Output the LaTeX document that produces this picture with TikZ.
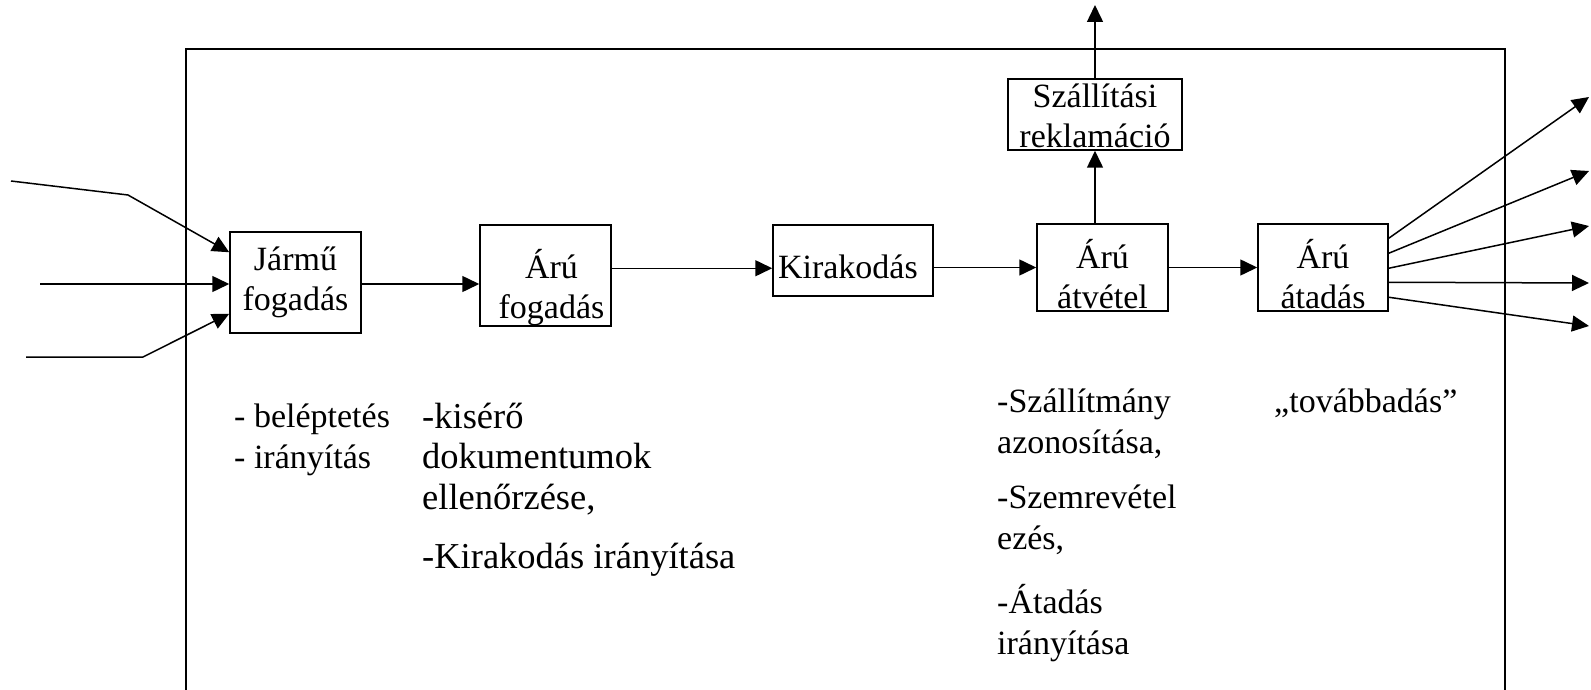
\documentclass[tikz,border=0pt]{standalone}
\usepackage{fontspec}
\setmainfont{Liberation Serif}
\usetikzlibrary{arrows.meta,calc}
\begin{document}
\begin{tikzpicture}[x=1pt,y=-1pt,
  proc/.style={draw, line width=1.5pt, inner sep=0pt, align=center,
    font=\fontsize{34}{40}\selectfont},
  arr/.style={line width=1.5pt, -{Triangle[length=17pt,width=16pt]}},
  link/.style={line width=1.5pt},
  note/.style={anchor=base west, inner sep=0pt, align=left,
    font=\fontsize{34}{41}\selectfont},
  bignote/.style={note, font=\fontsize{36.5}{40.5}\selectfont}]
\useasboundingbox (0,0) rectangle (1591,690);

% system boundary, open at the bottom
\draw[link] (186,690) -- (186,49) -- (1505,49) -- (1505,690);

% process steps (base anchor = first text line)
\node[proc, text width=131pt, text height=38pt, text depth=63pt, anchor=base]
  (jf) at (295.5,270) {Jármű\\fogadás};
\node[proc, text width=131pt, text height=53pt, text depth=48pt, anchor=base]
  (af) at (545.5,278) {\hspace*{12pt}Árú\\\hspace*{12pt}fogadás};
\node[proc, text width=150pt, inner xsep=5pt, align=left, text height=53pt, text depth=18pt, anchor=base]
  (ki) at (853,278) {Kirakodás};
\node[proc, text width=174pt, text height=29pt, text depth=42pt, anchor=base]
  (sz) at (1095,108) {Szállítási\\reklamáció};
\node[proc, text width=131pt, text height=44pt, text depth=43pt, anchor=base]
  (at) at (1102.5,268) {Árú\\átvétel};
\node[proc, text width=130pt, text height=44pt, text depth=43pt, anchor=base]
  (ad) at (1323,268) {Árú\\átadás};

% incoming vehicles
\coordinate (in1) at (11,181);
\coordinate (in1b) at (128,195);
\coordinate (in2) at (40,284);
\coordinate (in3) at (26,357);
\coordinate (in3b) at (143,357);
\draw[arr] (in1) -- (in1b) -- ($(jf.north west)+(0,21)$);
\draw[arr] (in2) -- (jf.west |- in2);
\draw[arr] (in3) -- (in3b) -- ($(jf.south west)+(0,-20)$);

% main flow
\draw[arr] (jf.east |- in2) -- (af.west |- in2);
\draw[arr] ($(af.north east)+(0,44)$) -- ($(ki.north west)+(0,44)$);
\draw[arr] (ki.east |- at.west) -- (at.west);
\draw[arr] (at.east) -- (ad.west);
\draw[arr] (sz.south |- at.north) -- (sz.south);
\coordinate (up) at (1095,5);
\draw[arr] (sz.north) -- (up);

% outgoing deliveries
\coordinate (o1) at (1589,97);
\coordinate (o2) at (1589,171);
\coordinate (o3) at (1589,226);
\coordinate (o4) at (1589,283);
\coordinate (o5) at (1589,326);
\draw[arr] ($(ad.north east)+(0,15)$) -- (o1);
\draw[arr] ($(ad.north east)+(0,30)$) -- (o2);
\draw[arr] ($(ad.north east)+(0,45)$) -- (o3);
\draw[arr] ($(ad.north east)+(0,59)$) -- (o4);
\draw[arr] ($(ad.north east)+(0,74)$) -- (o5);

% task descriptions (base anchor = last text line)
\node[note] (t1) at (234,468) {- beléptetés\\- irányítás};
\node[bignote] (t2a) at (422,509) {-kisérő\\dokumentumok\\ellenőrzése,};
\node[bignote] (t2b) at (422,568) {-Kirakodás irányítása};
\node[note] (t3a) at (997,453) {-Szállítmány\\azonosítása,};
\node[note] (t3b) at (997,549) {-Szemrevétel\\ezés,};
\node[note] (t3c) at (997,654) {-Átadás\\irányítása};
\node[note] (t4) at (1274,412) {„továbbadás”};
\end{tikzpicture}
\end{document}
